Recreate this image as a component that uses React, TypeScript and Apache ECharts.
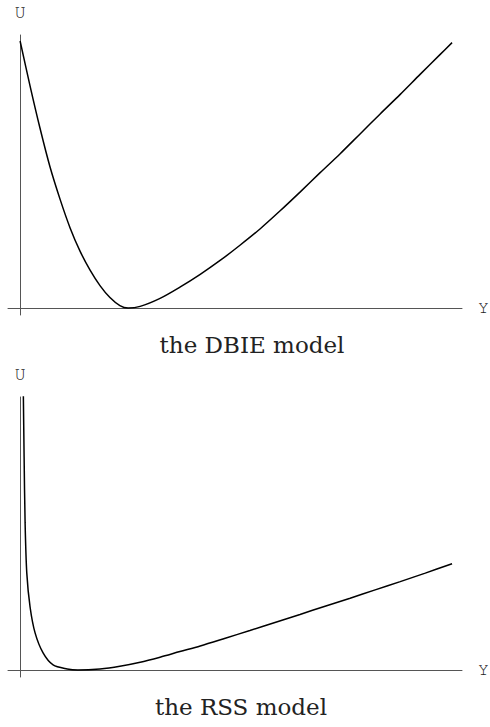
import React, { useEffect, useRef } from "react";
import * as echarts from "echarts";

// DBIE model: Y values and potential U(Y)
const dbieY = [0, 0.23, 0.46, 0.69, 0.93, 1.16, 1.39, 1.62, 1.85, 2.08, 2.31, 2.5, 2.78, 3.24, 3.7, 4.17, 4.63, 5.09, 5.56, 6.02, 6.48, 6.94, 7.41, 7.87, 8.33, 8.8, 9.26, 9.72, 10];
const dbieU = [10.0, 8.32, 6.74, 5.3, 4.05, 2.99, 2.12, 1.42, 0.84, 0.39, 0.09, 0, 0.06, 0.36, 0.78, 1.26, 1.78, 2.35, 2.97, 3.64, 4.34, 5.06, 5.78, 6.52, 7.26, 8.0, 8.75, 9.49, 9.94];

// RSS model
const rssY = [0.065, 0.076, 0.093, 0.116, 0.155, 0.231, 0.347, 0.532, 0.764, 1.09, 1.34, 1.85, 2.31, 2.78, 3.24, 3.7, 4.17, 4.75, 5.32, 5.9, 6.48, 7.06, 7.64, 8.22, 8.8, 9.38, 10];
const rssU = [11.5, 10.22, 7.98, 5.51, 3.63, 2.36, 1.39, 0.64, 0.19, 0.04, 0, 0.04, 0.14, 0.29, 0.48, 0.69, 0.9, 1.19, 1.48, 1.78, 2.08, 2.39, 2.69, 3.0, 3.31, 3.63, 3.98];

const captions = ["the DBIE model", "the RSS model"];
const axisNames = { x: "Y", y: "U" };

const X_MIN = -0.28;
const X_MAX = 10.23;
const U_MIN = -0.262;
const U_MAX = 10.225;

const MONO = "'Nimbus Mono PS', 'FreeMono', 'Courier New', Courier, 'Liberation Mono', monospace";

export default function App() {
  const ref = useRef<HTMLDivElement>(null);

  useEffect(() => {
    if (!ref.current) return;
    const chart = echarts.init(ref.current, null, { renderer: "svg" });
    const axisLine = { onZero: true, lineStyle: { color: "#555", width: 1 } };
    const nameStyle = { fontFamily: MONO, fontSize: 18, color: "#222" };
    const mkX = (gridIndex: number) => ({
      type: "value",
      gridIndex,
      min: X_MIN,
      max: X_MAX,
      axisLine,
      axisTick: { show: false },
      axisLabel: { show: false },
      splitLine: { show: false },
      name: axisNames.x,
      nameLocation: "end",
      nameGap: 16,
      nameTextStyle: { ...nameStyle, align: "left", verticalAlign: "middle" },
    });
    const mkY = (gridIndex: number) => ({
      type: "value",
      gridIndex,
      min: U_MIN,
      max: U_MAX,
      axisLine,
      axisTick: { show: false },
      axisLabel: { show: false },
      splitLine: { show: false },
      name: axisNames.y,
      nameLocation: "end",
      nameGap: 13,
      nameTextStyle: { ...nameStyle, align: "center", verticalAlign: "bottom" },
    });
    const mkSeries = (idx: number, xs: number[], us: number[]) => ({
      type: "line",
      xAxisIndex: idx,
      yAxisIndex: idx,
      data: xs.map((x, i) => [x, us[i]]),
      showSymbol: false,
      smooth: 0.3,
      clip: true,
      lineStyle: { color: "#000", width: 1.5 },
    });
    const captionText = (text: string, x: number, y: number) => ({
      type: "text",
      x,
      y,
      style: {
        text,
        fontFamily: "DejaVu Serif",
        fontSize: 23,
        fill: "#222",
        align: "center",
        verticalAlign: "middle",
        textAlign: "center",
        textVerticalAlign: "middle",
      },
    });
    chart.setOption({
      animation: false,
      backgroundColor: "#fff",
      grid: [
        { left: 8, right: 28, top: 35, height: 280 },
        { left: 8, right: 28, top: 397, height: 280 },
      ],
      xAxis: [mkX(0), mkX(1)],
      yAxis: [mkY(0), mkY(1)],
      series: [mkSeries(0, dbieY, dbieU), mkSeries(1, rssY, rssU)],
      graphic: [captionText(captions[0], 252, 345), captionText(captions[1], 241, 707)],
    });
    return () => chart.dispose();
  }, []);

  return (
    <div
      ref={ref}
      style={{ position: "fixed", left: 0, top: 0, width: 490, height: 727, background: "#fff" }}
    />
  );
}
